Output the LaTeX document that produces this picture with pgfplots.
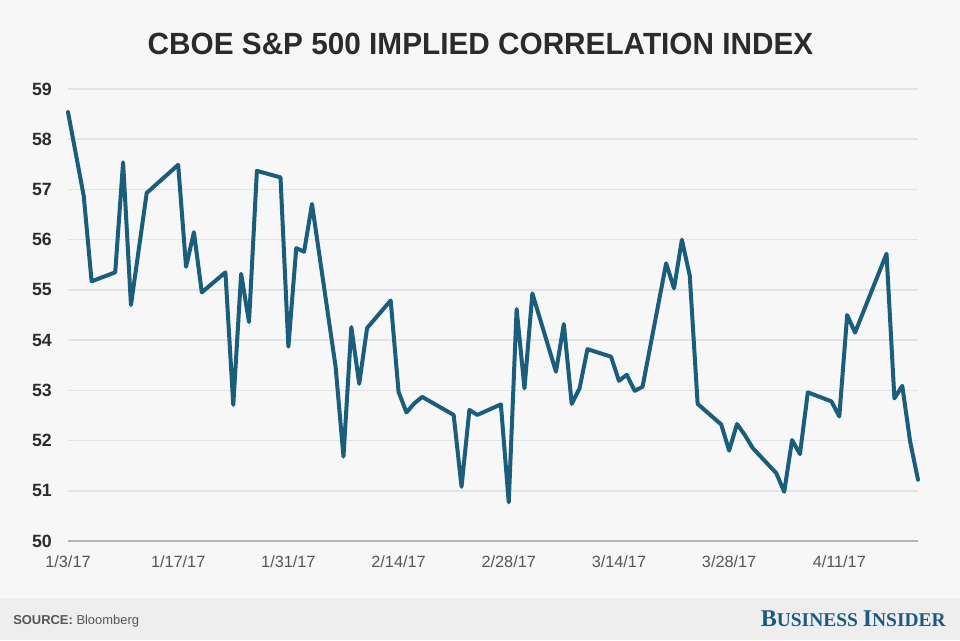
\documentclass[border=0pt]{standalone}
\usepackage{pgfplots}
\pgfplotsset{compat=1.18}
\usepackage{fontspec}
\setmainfont{Liberation Sans}
\newfontfamily\titlefont[FakeStretch=0.97]{Liberation Sans}
\newfontfamily\bifont{Liberation Serif}
\definecolor{bg}{HTML}{F7F7F7}
\definecolor{foot}{HTML}{EEEEEE}
\definecolor{gridc}{HTML}{E3E3E3}
\definecolor{axisc}{HTML}{B4B4B4}
\definecolor{linec}{HTML}{1A5E7B}
\definecolor{txt}{HTML}{2B2B2B}
\definecolor{tickc}{HTML}{555555}
\definecolor{bi}{HTML}{1D5A7C}
\pgfplotstableread{
day val
0 58.54
2 56.87
3 55.17
6 55.35
7 57.54
8 54.70
10 56.93
14 57.49
15 55.46
16 56.15
17 54.95
20 55.35
21 52.71
22 55.32
23 54.36
24 57.37
27 57.24
28 53.87
29 55.83
30 55.76
31 56.71
34 53.47
35 51.68
36 54.26
37 53.13
38 54.24
41 54.79
42 52.97
43 52.56
44 52.74
45 52.87
49 52.51
50 51.08
51 52.61
52 52.51
55 52.72
56 50.77
57 54.62
58 53.04
59 54.93
62 53.37
63 54.32
64 52.73
65 53.04
66 53.82
69 53.67
70 53.19
71 53.31
72 52.99
73 53.07
76 55.53
77 55.03
78 56.00
79 55.28
80 52.73
83 52.32
84 51.80
85 52.33
86 52.11
87 51.85
90 51.35
91 50.98
92 52.01
93 51.73
94 52.96
97 52.78
98 52.48
99 54.50
100 54.15
104 55.72
105 52.84
106 53.09
107 51.98
108 51.22
}\datatable
\begin{document}
\begin{tikzpicture}[x=0.75pt,y=0.75pt]
\fill[bg] (0,0) rectangle (960,640);
\fill[foot] (0,0) rectangle (960,42);
\node[anchor=base, inner sep=0pt, text=txt] at (480.5,585)
  {\titlefont\bfseries\fontsize{23}{27}\selectfont CBOE S\&P 500 IMPLIED CORRELATION INDEX};
\node[anchor=base west, inner sep=0pt, text=tickc] at (13,16)
  {\fontsize{9.7}{11}\selectfont\textbf{SOURCE:} Bloomberg};
\node[anchor=base east, inner sep=0pt, text=bi] at (946,14)
  {\bifont\bfseries\fontsize{18}{20}\selectfont B\fontsize{14.6}{16}\selectfont USINESS \fontsize{18}{20}\selectfont I\fontsize{14.6}{16}\selectfont NSIDER};
\begin{axis}[
  at={(51pt,74.25pt)}, anchor=south west,
  width=637.5pt, height=339pt, scale only axis,
  xmin=0, xmax=108, ymin=50, ymax=59,
  axis lines*=left,
  x axis line style={draw=axisc, line width=1.5pt},
  y axis line style={draw=none},
  major tick length=0pt,
  tick style={draw=none},
  ytick={50,51,...,59},
  ymajorgrids,
  grid style={draw=gridc, line width=1.2pt},
  xtick={0,14,28,42,56,70,84,98},
  xticklabels={1/3/17,1/17/17,1/31/17,2/14/17,2/28/17,3/14/17,3/28/17,4/11/17},
  /pgf/number format/assume math mode=true,
  yticklabel style={font=\bfseries\fontsize{13.3}{14}\selectfont, text=txt, anchor=east, inner sep=0pt, xshift=-12pt},
  xticklabel style={font=\fontsize{12.2}{13}\selectfont, text=tickc, anchor=center, inner sep=0pt, yshift=-15.6pt},
  clip=false,
]
\addplot[linec, line width=3pt, line join=round, line cap=round, mark=none] table[x=day, y=val] {\datatable};
\end{axis}
\end{tikzpicture}
\end{document}
